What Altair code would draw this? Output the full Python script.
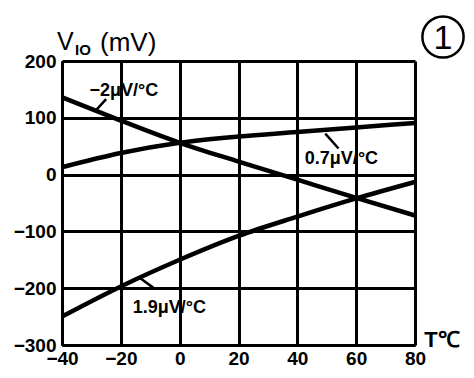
import altair as alt
import pandas as pd

temps = [-40, -20, 0, 20, 40, 60, 80]
line_a = [136, 95, 56, 23, -9, -41, -72]      # -2 uV/C
line_b = [13, 38, 56, 67, 75, 83, 91]         # 0.7 uV/C
line_c = [-250, -197, -150, -108, -74, -42, -13]  # 1.9 uV/C

x_ticks = [-40, -20, 0, 20, 40, 60, 80]
y_ticks = [-300, -200, -100, 0, 100, 200]

ann_text = ["\u22122\u03bcV/\u00b0C", "0.7\u03bcV/\u00b0C", "1.9\u03bcV/\u00b0C"]
ann_x = [-19, 55, -3.5]
ann_y = [148, 28, -234]
# leader lines: start (on curve) -> end (near label)
lead_x1 = [-28.5, 49.5, -13.5]
lead_y1 = [113, 72, -182]
lead_x2 = [-25, 54, -9]
lead_y2 = [133, 46, -199]

rows = []
for name, vals in [("a", line_a), ("b", line_b), ("c", line_c)]:
    for t, v in zip(temps, vals):
        rows.append({"series": name, "T": t, "V": v})
df = pd.DataFrame(rows)

ann_df = pd.DataFrame({"text": ann_text, "x": ann_x, "y": ann_y})
lead_df = pd.DataFrame({"x": lead_x1, "y": lead_y1, "x2": lead_x2, "y2": lead_y2})

FONT = "Liberation Sans"

xscale = alt.Scale(domain=[-40, 80], nice=False, zero=False)
yscale = alt.Scale(domain=[-300, 200], nice=False, zero=False)

base_x = alt.X("T:Q", scale=xscale, axis=alt.Axis(
    values=x_ticks, title=None, grid=True, gridColor="black", gridWidth=3,
    gridOpacity=1, domainColor="black", domainWidth=3, ticks=False,
    labelFont=FONT, labelFontSize=19, labelFontWeight="bold", labelColor="black",
    labelPadding=4, labelFlush=False, labelOverlap=False))
base_y = alt.Y("V:Q", scale=yscale, axis=alt.Axis(
    values=y_ticks, title=None, grid=True, gridColor="black", gridWidth=3,
    gridOpacity=1, domainColor="black", domainWidth=3, ticks=False,
    labelFont=FONT, labelFontSize=19, labelFontWeight="bold", labelColor="black",
    labelPadding=6, labelFlush=False, labelOverlap=False))

lines = alt.Chart(df).mark_line(color="black", strokeWidth=4.5, interpolate="monotone").encode(
    x=base_x, y=base_y, detail="series:N")

ann = alt.Chart(ann_df).mark_text(font=FONT, fontSize=18, fontWeight="bold", color="black",
                                  align="center", baseline="middle").encode(
    x=alt.X("x:Q", scale=xscale), y=alt.Y("y:Q", scale=yscale), text="text:N")

leaders = alt.Chart(lead_df).mark_rule(color="black", strokeWidth=2.5).encode(
    x=alt.X("x:Q", scale=xscale), y=alt.Y("y:Q", scale=yscale),
    x2="x2:Q", y2="y2:Q")

title_v = alt.Chart(pd.DataFrame({"t": ["V"]})).mark_text(
    font=FONT, fontSize=25, color="black", align="left", baseline="alphabetic").encode(
    x=alt.value(-5), y=alt.value(-11), text="t:N")
title_io = alt.Chart(pd.DataFrame({"t": ["IO"]})).mark_text(
    font=FONT, fontSize=15, fontWeight="bold", color="black", align="left", baseline="alphabetic").encode(
    x=alt.value(13), y=alt.value(-6), text="t:N")
title_mv = alt.Chart(pd.DataFrame({"t": ["(mV)"]})).mark_text(
    font=FONT, fontSize=26, color="black", align="left", baseline="alphabetic").encode(
    x=alt.value(38), y=alt.value(-10), text="t:N")
t_label = alt.Chart(pd.DataFrame({"t": ["T\u2103"]})).mark_text(
    font=FONT, fontSize=22, fontWeight="bold", color="black", align="center", baseline="middle").encode(
    x=alt.value(380), y=alt.value(279), text="t:N")
circle = alt.Chart(pd.DataFrame({"t": ["1"]})).mark_point(
    shape="circle", filled=False, color="black", strokeWidth=2.5, size=1700, opacity=1).encode(
    x=alt.value(381), y=alt.value(-24))
one = alt.Chart(pd.DataFrame({"t": ["1"]})).mark_text(
    font=FONT, fontSize=34, color="black", align="center", baseline="middle").encode(
    x=alt.value(381), y=alt.value(-22), text="t:N")

chart = alt.layer(lines, leaders, ann, title_v, title_io, title_mv, t_label, circle, one).properties(
    width=353, height=284,
    autosize=alt.AutoSizeParams(type="none"),
    padding={"left": 54, "top": 53, "right": 51, "bottom": 25},
).configure_view(stroke="black", strokeWidth=3).configure(background="white")

chart.save("out.html", embed_options={"renderer": "svg", "actions": False})
